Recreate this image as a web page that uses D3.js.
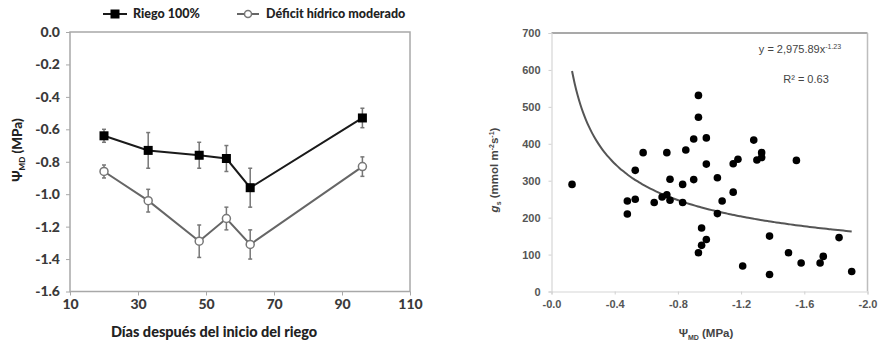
<!DOCTYPE html>
<meta charset="utf-8">
<script src="https://d3js.org/d3.v7.min.js"></script>
<style>
  body { margin: 0; background: #fff; }
</style>
<div id="my_dataviz"></div>
<script>

// ---- left chart data: leaf water potential over time
var days = [20, 33, 48, 56, 63, 96];
var riego = [-0.64, -0.73, -0.76, -0.78, -0.96, -0.53];
var riegoErr = [0.04, 0.11, 0.08, 0.08, 0.12, 0.06];
var deficit = [-0.86, -1.04, -1.29, -1.15, -1.31, -0.83];
var deficitErr = [0.04, 0.07, 0.10, 0.07, 0.09, 0.06];
var leftXTicks = [10, 30, 50, 70, 90, 110];
var leftYTicks = [0, -0.2, -0.4, -0.6, -0.8, -1.0, -1.2, -1.4, -1.6];

// ---- right chart data: stomatal conductance vs water potential
var psi = [-0.13, -0.48, -0.48, -0.53, -0.53, -0.58, -0.65, -0.70, -0.73, -0.73,
           -0.75, -0.75, -0.83, -0.83, -0.85, -0.90, -0.90, -0.93, -0.93, -0.93,
           -0.95, -0.95, -0.98, -0.98, -0.98, -1.05, -1.05, -1.08, -1.15, -1.15,
           -1.18, -1.21, -1.28, -1.30, -1.33, -1.33, -1.38, -1.38, -1.50, -1.55,
           -1.58, -1.70, -1.72, -1.82, -1.90];
var gs = [290, 245, 210, 250, 328, 376, 241, 256, 262, 376,
          304, 247, 290, 241, 383, 303, 413, 531, 472, 105,
          172, 125, 141, 345, 416, 308, 211, 245, 269, 346,
          358, 69, 410, 356, 376, 363, 150, 46, 105, 355,
          77, 77, 95, 146, 54];
var rightXTicks = [0, -0.4, -0.8, -1.2, -1.6, -2.0];
var rightXLabels = ["-0.0", "-0.4", "-0.8", "-1.2", "-1.6", "-2.0"];
var rightYTicks = [0, 100, 200, 300, 400, 500, 600, 700];
// fitted power curve as drawn: y = a * |x|^b, from x0 to x1
var fitA = 222, fitB = -0.485, fitX0 = -0.13, fitX1 = -1.9;

var svg = d3.select("#my_dataviz")
  .append("svg")
    .attr("width", 883)
    .attr("height", 345);

// ================= LEFT CHART =================
var lx = d3.scaleLinear().domain([10, 110]).range([70, 410]);
var ly = d3.scaleLinear().domain([0, -1.6]).range([32, 291.5]);
var lfont = "Lato, 'Open Sans', sans-serif";

var left = svg.append("g");

left.append("rect")
    .attr("x", 70).attr("y", 32)
    .attr("width", 340).attr("height", 259.5)
    .style("fill", "none")
    .style("stroke", "#a8a8a8")
    .style("stroke-width", 1.5);

var lyAxis = left.append("g")
    .attr("transform", "translate(70,0)")
    .call(d3.axisLeft(ly).tickValues(leftYTicks).tickSize(4).tickPadding(6)
      .tickFormat(function(d){ return d3.format(".1f")(d).replace("\u2212", "-"); }));
var lxAxis = left.append("g")
    .attr("transform", "translate(0,291.5)")
    .call(d3.axisBottom(lx).tickValues(leftXTicks).tickSize(4).tickPadding(4));

[lyAxis, lxAxis].forEach(function(a){
  a.select(".domain").remove();
  a.selectAll("line").style("stroke", "#a8a8a8");
  a.selectAll("text")
    .style("font-family", lfont)
    .style("font-weight", "900")
    .style("font-size", "14px")
    .style("fill", "#3a3a3a");
});

function drawSeries(g, vals, errs, color, filled) {
  var pts = days.map(function(d, i){ return [d, vals[i], errs[i]]; });
  g.append("path")
    .datum(pts)
    .attr("d", d3.line().x(function(d){ return lx(d[0]); }).y(function(d){ return ly(d[1]); }))
    .style("fill", "none")
    .style("stroke", color)
    .style("stroke-width", 2);
  var eb = g.append("g").selectAll("g").data(pts).enter().append("g");
  eb.append("line")
    .attr("x1", function(d){ return lx(d[0]); })
    .attr("x2", function(d){ return lx(d[0]); })
    .attr("y1", function(d){ return ly(d[1] + d[2]); })
    .attr("y2", function(d){ return ly(d[1] - d[2]); })
    .style("stroke", "#777").style("stroke-width", 1.5);
  [1, -1].forEach(function(s){
    eb.append("line")
      .attr("x1", function(d){ return lx(d[0]) - 2; })
      .attr("x2", function(d){ return lx(d[0]) + 2; })
      .attr("y1", function(d){ return ly(d[1] + s * d[2]); })
      .attr("y2", function(d){ return ly(d[1] + s * d[2]); })
      .style("stroke", "#777").style("stroke-width", 1.5);
  });
  if (filled) {
    g.selectAll("rect.m").data(pts).enter().append("rect")
      .attr("class", "m")
      .attr("x", function(d){ return lx(d[0]) - 4.5; })
      .attr("y", function(d){ return ly(d[1]) - 4.5; })
      .attr("width", 9).attr("height", 9)
      .style("fill", "#000");
  } else {
    g.selectAll("circle.m").data(pts).enter().append("circle")
      .attr("class", "m")
      .attr("cx", function(d){ return lx(d[0]); })
      .attr("cy", function(d){ return ly(d[1]); })
      .attr("r", 4)
      .style("fill", "#fff")
      .style("stroke", "#777")
      .style("stroke-width", 1.5);
  }
}

drawSeries(left.append("g"), deficit, deficitErr, "#666", false);
drawSeries(left.append("g"), riego, riegoErr, "#1a1a1a", true);

// legend
var leg = left.append("g").style("font-family", lfont).style("font-weight", "900").style("font-size", "12.5px");
leg.append("line").attr("x1", 103).attr("x2", 127).attr("y1", 14).attr("y2", 14)
  .style("stroke", "#1a1a1a").style("stroke-width", 2);
leg.append("rect").attr("x", 110.5).attr("y", 9.5).attr("width", 9).attr("height", 9).style("fill", "#000");
leg.append("text").attr("x", 133).attr("y", 18).text("Riego 100%").style("fill", "#222");
leg.append("line").attr("x1", 237).attr("x2", 259).attr("y1", 14).attr("y2", 14)
  .style("stroke", "#666").style("stroke-width", 2);
leg.append("circle").attr("cx", 248).attr("cy", 14).attr("r", 3.5)
  .style("fill", "#fff").style("stroke", "#777").style("stroke-width", 1.5);
leg.append("text").attr("x", 266).attr("y", 18).text("Déficit hídrico moderado").style("fill", "#222");

// axis titles
left.append("text")
    .attr("x", 214).attr("y", 337)
    .attr("text-anchor", "middle")
    .style("font-family", lfont).style("font-weight", "900").style("font-size", "14.5px")
    .style("fill", "#222")
    .text("Días después del inicio del riego");

var lyt = left.append("text")
    .attr("transform", "translate(22,150) rotate(-90)")
    .attr("text-anchor", "middle")
    .style("font-family", lfont).style("font-weight", "900").style("font-size", "13.5px")
    .style("fill", "#222");
lyt.append("tspan").text("Ψ");
lyt.append("tspan").attr("dy", 3).style("font-size", "8px").text("MD");
lyt.append("tspan").attr("dy", -3).text(" (MPa)");

// ================= RIGHT CHART =================
var rx = d3.scaleLinear().domain([0, -2.0]).range([551.5, 867.5]);
var ry = d3.scaleLinear().domain([0, 700]).range([291.5, 33]);
var rfont = "'Liberation Sans', Arial, sans-serif";

var right = svg.append("g");

// frame: light left/bottom, darker top/right
right.append("line").attr("x1", 551.5).attr("x2", 867.5).attr("y1", 33).attr("y2", 33)
  .style("stroke", "#8c8c8c").style("stroke-width", 1.5);
right.append("line").attr("x1", 867.5).attr("x2", 867.5).attr("y1", 33).attr("y2", 291.5)
  .style("stroke", "#bdbdbd").style("stroke-width", 1.5);

var ryAxis = right.append("g")
    .attr("transform", "translate(551.5,0)")
    .call(d3.axisLeft(ry).tickValues(rightYTicks).tickSize(3).tickPadding(8));
var rxAxis = right.append("g")
    .attr("transform", "translate(0,291.5)")
    .call(d3.axisBottom(rx).tickValues(rightXTicks).tickSize(3).tickPadding(6)
      .tickFormat(function(d, i){ return rightXLabels[i]; }));

[ryAxis, rxAxis].forEach(function(a){
  a.select(".domain").style("stroke", "#d6d6d6").style("stroke-width", 1.2);
  a.selectAll("line").style("stroke", "#d0d0d0");
  a.selectAll("text")
    .style("font-family", rfont)
    .style("font-weight", "bold")
    .style("font-size", "11px")
    .style("fill", "#555");
});

// fitted curve
var fitPts = d3.range(0, 101).map(function(i){
  var x = fitX0 + (fitX1 - fitX0) * i / 100;
  return [x, fitA * Math.pow(Math.abs(x), fitB)];
});
right.append("path")
  .datum(fitPts)
  .attr("d", d3.line().curve(d3.curveMonotoneX).x(function(d){ return rx(d[0]); }).y(function(d){ return ry(d[1]); }))
  .style("fill", "none")
  .style("stroke", "#555")
  .style("stroke-width", 2);

right.append("g").selectAll("circle")
  .data(psi.map(function(p, i){ return [p, gs[i]]; }))
  .enter().append("circle")
    .attr("cx", function(d){ return rx(d[0]); })
    .attr("cy", function(d){ return ry(d[1]); })
    .attr("r", 3.8)
    .style("fill", "#000");

// equation
var eq = right.append("text")
    .attr("x", 800).attr("y", 53)
    .attr("text-anchor", "middle")
    .style("font-family", rfont).style("font-size", "11px").style("fill", "#444");
eq.append("tspan").text("y = 2,975.89x");
eq.append("tspan").attr("dy", -4).style("font-size", "7px").text("-1.23");
right.append("text")
    .attr("x", 806).attr("y", 83)
    .attr("text-anchor", "middle")
    .style("font-family", rfont).style("font-size", "11px").style("fill", "#444")
    .text("R² = 0.63");

// axis titles
var rxt = right.append("text")
    .attr("x", 706).attr("y", 337)
    .attr("text-anchor", "middle")
    .style("font-family", rfont).style("font-weight", "bold").style("font-size", "11.5px")
    .style("fill", "#444");
rxt.append("tspan").text("Ψ");
rxt.append("tspan").attr("dy", 3).style("font-size", "7px").text("MD");
rxt.append("tspan").attr("dy", -3).text(" (MPa)");

var ryt = right.append("text")
    .attr("transform", "translate(498,170) rotate(-90)")
    .attr("text-anchor", "middle")
    .style("font-family", rfont).style("font-weight", "bold").style("font-size", "11.5px")
    .style("fill", "#444");
ryt.append("tspan").style("font-style", "italic").text("g");
ryt.append("tspan").attr("dy", 3).style("font-size", "7px").text("s");
ryt.append("tspan").attr("dy", -3).text(" (mmol m");
ryt.append("tspan").attr("dy", -4).style("font-size", "7px").text("-2");
ryt.append("tspan").attr("dy", 4).text("s");
ryt.append("tspan").attr("dy", -4).style("font-size", "7px").text("-1");
ryt.append("tspan").attr("dy", 4).text(")");

</script>
